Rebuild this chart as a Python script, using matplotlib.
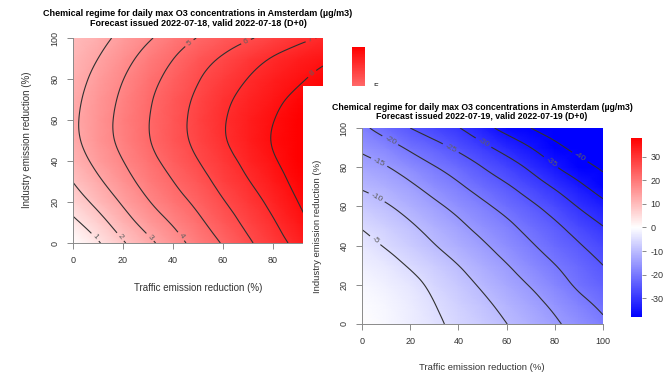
import numpy as np
import matplotlib
matplotlib.use('Agg')
import matplotlib.pyplot as plt
from matplotlib.patches import Rectangle
from matplotlib.colors import Normalize
from matplotlib.cm import ScalarMappable
from matplotlib.tri import Triangulation, UniformTriRefiner, CubicTriInterpolator

plt.rcParams['font.family'] = ['Liberation Sans', 'DejaVu Sans']
plt.rcParams['axes.unicode_minus'] = False

# reduction grid (%), rows = industry, columns = traffic
traffic = [0, 10, 20, 30, 40, 50, 60, 70, 80, 90, 100]
industry = [0, 10, 20, 30, 40, 50, 60, 70, 80, 90, 100]

# O3 change (ug/m3), forecast 2022-07-18
o3_0718 = [
    [0.0, 0.9, 1.9, 2.75, 3.58, 4.36, 5.08, 5.85, 6.57, 7.3, 8.1],
    [0.78, 1.62, 2.55, 3.38, 4.1, 4.8, 5.52, 6.23, 6.91, 7.68, 8.42],
    [1.45, 2.28, 3.13, 3.93, 4.6, 5.22, 5.93, 6.58, 7.26, 8.0, 8.7],
    [2.02, 2.84, 3.62, 4.36, 4.99, 5.62, 6.31, 6.95, 7.6, 8.27, 8.92],
    [2.48, 3.26, 3.99, 4.7, 5.33, 5.98, 6.64, 7.26, 7.89, 8.47, 9.07],
    [2.77, 3.52, 4.24, 4.93, 5.59, 6.24, 6.9, 7.48, 8.05, 8.6, 9.13],
    [2.83, 3.56, 4.28, 4.96, 5.63, 6.28, 6.92, 7.46, 7.97, 8.5, 9.0],
    [2.75, 3.46, 4.18, 4.87, 5.53, 6.17, 6.78, 7.3, 7.76, 8.24, 8.7],
    [2.6, 3.27, 3.98, 4.68, 5.3, 5.94, 6.5, 7.02, 7.45, 7.86, 8.3],
    [2.42, 3.0, 3.66, 4.35, 4.98, 5.6, 6.1, 6.6, 7.06, 7.45, 7.8],
    [2.2, 2.7, 3.27, 3.88, 4.47, 5.04, 5.5, 5.9, 6.3, 6.72, 7.1],
]

# O3 change (ug/m3), forecast 2022-07-19
o3_0719 = [
    [0.0, -1.0, -2.4, -4.2, -6.1, -8.0, -9.95, -12.1, -14.4, -16.6, -19.1],
    [-0.4, -1.35, -2.75, -4.9, -7.0, -9.1, -11.25, -13.5, -15.9, -18.5, -21.1],
    [-1.1, -2.15, -3.7, -6.0, -8.3, -10.6, -12.9, -15.3, -17.9, -20.8, -23.2],
    [-2.1, -3.5, -5.45, -7.7, -10.0, -12.4, -14.8, -17.4, -19.9, -22.55, -25.0],
    [-3.5, -5.35, -7.45, -9.8, -12.1, -14.4, -16.9, -19.5, -22.0, -24.6, -27.2],
    [-5.4, -7.35, -9.45, -11.75, -14.1, -16.5, -19.0, -21.6, -24.2, -27.1, -30.0],
    [-7.85, -9.55, -11.65, -14.0, -16.4, -19.0, -21.5, -24.1, -27.0, -30.3, -33.5],
    [-10.45, -12.0, -14.2, -16.7, -19.25, -21.9, -24.4, -27.3, -30.5, -33.9, -37.3],
    [-13.1, -14.75, -17.2, -19.75, -22.25, -25.0, -27.8, -30.9, -34.6, -37.9, -40.8],
    [-15.9, -18.1, -20.8, -23.4, -25.9, -28.8, -31.8, -35.0, -38.6, -41.5, -43.5],
    [-19.0, -22.1, -25.0, -27.4, -29.8, -33.2, -36.7, -40.0, -42.8, -44.0, -45.0],
]

levels_0718 = [1, 2, 3, 4, 5, 6, 7, 8]
levels_0719 = [-40, -35, -30, -25, -20, -15, -10, -5]
cbar_ticks_0718 = [-5, 0, 5]
cbar_ticks_0719 = [-30, -20, -10, 0, 10, 20, 30]
xticks_0718 = [0, 20, 40, 60, 80]
axis_ticks = [0, 20, 40, 60, 80, 100]

title1 = 'Chemical regime for daily max O3 concentrations in Amsterdam (\u00b5g/m3)'
title2_0718 = 'Forecast issued 2022-07-18, valid 2022-07-18 (D+0)'
title2_0719 = 'Forecast issued 2022-07-19, valid 2022-07-19 (D+0)'
xlab = 'Traffic emission reduction (%)'
ylab = 'Industry emission reduction (%)'

W, H = 671, 374


def box(l, t, r, b):
    return [l / W, 1 - b / H, (r - l) / W, (b - t) / H]


def fx(px):
    return px / W


def fy(py):
    return 1 - py / H


fig = plt.figure(figsize=(W / 100, H / 100), dpi=100)
fig.patch.set_facecolor('white')

axcol = '#8a8a8a'
txtcol = '#333333'

# same diagonal in every grid cell
nx, ny = len(traffic), len(industry)
gx, gy = np.meshgrid(traffic, industry)
tris = []
for j in range(ny - 1):
    for i in range(nx - 1):
        a = j * nx + i
        tris.append([a, a + 1, a + nx + 1])
        tris.append([a, a + nx + 1, a + nx])
tri = Triangulation(gx.ravel().astype(float), gy.ravel().astype(float), tris)
refiner = UniformTriRefiner(tri)


def draw(ax, cax, z, levels, vmax, cticks, xticks, lab_pos, z_ord):
    norm = Normalize(-vmax, vmax)
    zf = np.array(z, dtype=float)
    ax.pcolormesh(traffic, industry, zf, cmap='bwr', norm=norm,
                  shading='gouraud', zorder=1)
    interp = CubicTriInterpolator(tri, zf.ravel(), kind='min_E')
    tri_f, z_f = refiner.refine_field(zf.ravel(), triinterpolator=interp, subdiv=3)
    cs = ax.tricontour(tri_f, z_f, levels=levels, colors='#303030',
                       linewidths=0.8, linestyles='solid', zorder=2)
    ax.clabel(cs, manual=lab_pos, inline=True, fmt='%d', fontsize=6,
              colors='#606060', inline_spacing=3)
    ax.set_xlim(0, 100)
    ax.set_ylim(0, 100)
    ax.set_xticks(xticks)
    ax.set_yticks(axis_ticks)
    for s in ['top', 'right']:
        ax.spines[s].set_visible(False)
    for s in ['left', 'bottom']:
        ax.spines[s].set_color(axcol)
        ax.spines[s].set_linewidth(0.7)
    ax.tick_params(length=4.5, width=0.7, color=axcol, labelsize=6.5,
                   labelcolor=txtcol, pad=5)
    plt.setp(ax.get_yticklabels(), rotation=90, va='center')
    cb = fig.colorbar(ScalarMappable(norm=norm, cmap='bwr'), cax=cax,
                      ticks=cticks)
    cb.outline.set_visible(False)
    cax.tick_params(length=3, width=0.7, color=axcol, labelsize=6.5,
                    labelcolor=txtcol, pad=3)
    ax.set_zorder(z_ord)
    cax.set_zorder(z_ord)


# forecast 2022-07-18 (behind)
ax1 = fig.add_axes(box(73, 38, 323, 243))
cax1 = fig.add_axes(box(352, 47, 365, 236))
draw(ax1, cax1, o3_0718, levels_0718, 8.5, cbar_ticks_0718, xticks_0718,
     [(9, 3), (19, 3), (31, 3), (43, 3), (47.5, 96), (69.5, 97.5),
      (95.5, 97.5), (96, 82)], 0)
fig.text(fx(198), fy(13), title1, ha='center', va='center', fontsize=6.5,
         fontweight='bold', zorder=0)
fig.text(fx(198), fy(23), title2_0718, ha='center', va='center',
         fontsize=6.5, fontweight='bold', zorder=0)
fig.text(fx(198), fy(288), xlab, ha='center', va='center', fontsize=7,
         color=txtcol, zorder=0)
fig.text(fx(27), fy(140), ylab, ha='center', va='center', fontsize=7,
         rotation=90, color=txtcol, zorder=0)

# white sheet of the second chart
fig.add_artist(Rectangle((fx(303), 0), 1 - fx(303), fy(86), transform=fig.transFigure,
                         facecolor='white', edgecolor='none', zorder=1))

# forecast 2022-07-19 (front)
ax2 = fig.add_axes(box(362, 128, 603, 324))
cax2 = fig.add_axes(box(631, 138, 642, 317))
draw(ax2, cax2, o3_0719, levels_0719, 38, cbar_ticks_0719, axis_ticks,
     [(5.4, 42.6), (6.1, 64.6), (6.7, 81.5), (11.6, 93.5), (36.7, 89.4),
      (50.4, 92.5), (78.3, 82.3), (90.8, 86)], 2)
fig.text(fx(482), fy(107), title1, ha='center', va='center', fontsize=6.3,
         fontweight='bold', zorder=3)
fig.text(fx(482), fy(117), title2_0719, ha='center', va='center',
         fontsize=6.3, fontweight='bold', zorder=3)
fig.text(fx(482), fy(367), xlab, ha='center', va='center', fontsize=6.8,
         color=txtcol, zorder=3)
fig.text(fx(318), fy(226), ylab, ha='center', va='center', fontsize=6.8,
         rotation=90, color=txtcol, zorder=3)

fig.savefig('out.png', dpi=100)
